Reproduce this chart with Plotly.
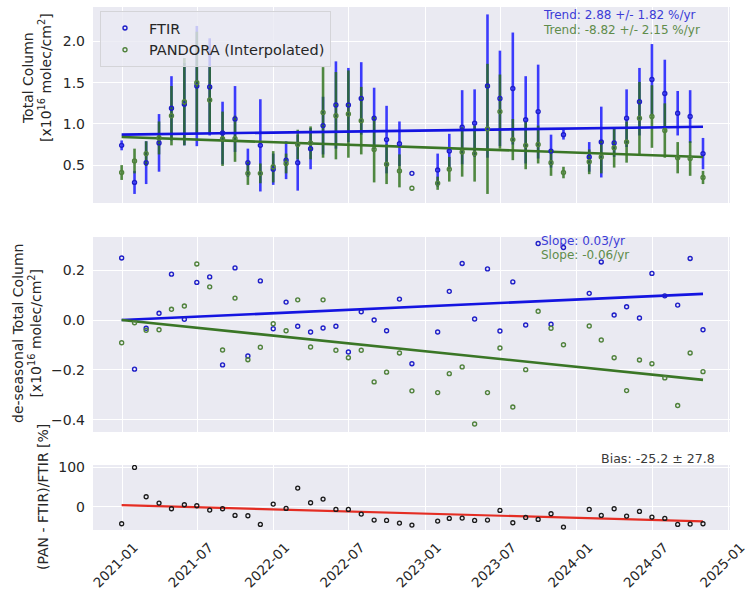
import plotly.graph_objects as go

# ---------------- data ----------------
dates = ['2020-12-31', '2021-01-31', '2021-02-28', '2021-03-31', '2021-04-30', '2021-05-31',
         '2021-06-30', '2021-07-31', '2021-08-31', '2021-09-30', '2021-10-31', '2021-11-30',
         '2021-12-31', '2022-01-31', '2022-02-28', '2022-03-31', '2022-04-30', '2022-05-31',
         '2022-06-30', '2022-07-31', '2022-08-31', '2022-09-30', '2022-10-31', '2022-11-30',
         '2023-01-31', '2023-02-28', '2023-03-31', '2023-04-30', '2023-05-31', '2023-06-30',
         '2023-07-31', '2023-08-31', '2023-09-30', '2023-10-31', '2023-11-30', '2024-01-31',
         '2024-02-29', '2024-03-31', '2024-04-30', '2024-05-31', '2024-06-30', '2024-07-31',
         '2024-08-31', '2024-09-30', '2024-10-31']

ftir_tc = [0.74, 0.29, 0.53, 0.77, 1.19, 1.24, 1.46, 1.45, 0.89, 1.06, 0.53, 0.74,
           0.45, 0.56, 0.53, 0.70, 0.98, 1.23, 1.23, 1.31, 1.07, 0.81, 0.76, 0.40,
           0.44, 0.67, 0.96, 1.01, 1.46, 1.31, 1.43, 1.05, 1.15, 0.67, 0.87, 0.60,
           0.78, 0.77, 1.07, 1.27, 1.54, 1.37, 1.13, 1.09, 0.64]
ftir_err = [0.06, 0.14, 0.26, 0.35, 0.39, 0.50, 0.73, 0.59, 0.38, 0.40, 0.17, 0.56,
            0.19, 0.23, 0.34, 0.25, 0.35, 0.53, 0.45, 0.44, 0.37, 0.41, 0.27, 0.0,
            0.20, 0.21, 0.45, 0.41, 0.87, 0.58, 0.68, 0.53, 0.57, 0.20, 0.06, 0.18,
            0.43, 0.17, 0.35, 0.41, 0.43, 0.41, 0.27, 0.32, 0.19]
pandora_tc = [0.41, 0.55, 0.64, 0.83, 1.10, 1.27, 1.50, 1.29, 0.82, 0.82, 0.40, 0.40,
              0.48, 0.52, 0.75, 0.77, 1.14, 1.10, 1.12, 1.04, 0.69, 0.51, 0.43, 0.22,
              0.28, 0.45, 0.66, 0.64, 0.94, 1.15, 0.81, 0.74, 0.75, 0.53, 0.41, 0.54,
              0.60, 0.71, 0.78, 1.07, 1.09, 0.92, 0.59, 0.58, 0.35]
pandora_err = [0.09, 0.15, 0.15, 0.20, 0.36, 0.53, 0.62, 0.40, 0.33, 0.28, 0.14, 0.12,
               0.19, 0.12, 0.18, 0.20, 0.55, 0.53, 0.53, 0.41, 0.40, 0.24, 0.20, 0.0,
               0.08, 0.15, 0.30, 0.34, 0.79, 0.45, 0.25, 0.29, 0.23, 0.16, 0.07, 0.15,
               0.20, 0.24, 0.25, 0.44, 0.38, 0.33, 0.19, 0.21, 0.08]

ftir_deseason = [0.249, -0.197, -0.033, 0.027, 0.184, 0.003, 0.151, 0.173, -0.180, 0.209,
                 -0.144, 0.157, -0.035, 0.072, -0.025, -0.048, -0.032, -0.025, -0.128, 0.033,
                 0.000, -0.043, 0.084, -0.175, -0.048, 0.115, 0.227, 0.004, 0.205, -0.044,
                 0.153, -0.020, 0.307, -0.017, 0.291, 0.107, 0.233, 0.020, 0.053, 0.008,
                 0.187, 0.097, 0.060, 0.247, -0.039]
pandora_deseason = [-0.091, -0.011, -0.041, -0.039, 0.043, 0.056, 0.225, 0.133, -0.120, 0.088,
                    -0.159, -0.109, -0.015, -0.043, 0.081, -0.108, 0.081, -0.121, -0.151, -0.121,
                    -0.248, -0.209, -0.132, -0.284, -0.291, -0.215, -0.188, -0.417, -0.291, -0.112,
                    -0.349, -0.199, 0.035, -0.033, -0.099, -0.024, -0.080, -0.151, -0.283, -0.160,
                    -0.175, -0.232, -0.343, -0.132, -0.207]

rel_diff = [-43.1, 99.8, 25.4, 9.3, -5.1, 5.1, 2.5, -8.5, -5.1, -22.0, -22.8, -44.8,
            6.8, -4.2, 47.4, 10.2, 19.5, -6.8, -6.8, -18.6, -33.8, -34.7, -41.5, -46.5,
            -36.4, -29.6, -28.8, -34.7, -33.8, -9.3, -40.6, -27.1, -32.1, -17.8, -51.6,
            -6.8, -22.0, -5.1, -23.7, -11.8, -26.2, -29.6, -44.8, -44.0, -43.1]

fit_dates = [dates[0], dates[-1]]
ftir_trend = [0.870, 0.966]
pandora_trend = [0.842, 0.598]
ftir_slope_line = [0.0, 0.105]
pandora_slope_line = [0.0, -0.240]
rel_diff_line = [4.2, -37.2]

tick_dates = ['2021-01-01', '2021-07-01', '2022-01-01', '2022-07-01', '2023-01-01',
              '2023-07-01', '2024-01-01', '2024-07-01', '2025-01-01']
tick_labels = ['2021-01', '2021-07', '2022-01', '2022-07', '2023-01',
               '2023-07', '2024-01', '2024-07', '2025-01']

trend_texts = ['Trend: 2.88 +/- 1.82 %/yr', 'Trend: -8.82 +/- 2.15 %/yr']
slope_texts = ['Slope: 0.03/yr', 'Slope: -0.06/yr']
bias_text = 'Bias: -25.2 ± 27.8'

# ---------------- style ----------------
W, H = 751, 593
FONT = 'DejaVu Sans'
TXT = '#262626'
BG = '#EAEAF2'
BLUE = 'rgb(20,20,225)'
BLUE_ERR = 'rgba(0,0,255,0.75)'
BLUE_MK = 'rgb(30,30,200)'
GREEN = 'rgb(58,118,38)'
GREEN_ERR = 'rgba(40,110,20,0.8)'
GREEN_MK = 'rgb(80,130,60)'
RED = 'rgb(228,45,35)'


def py(p):
    return 1 - p / H


x_dom = [93 / W, 730 / W]
x_range = ['2020-10-23', '2025-01-04']

fig = go.Figure()

# error bars (drawn first)
fig.add_trace(go.Scatter(x=dates, y=ftir_tc, mode='markers', marker=dict(size=1, opacity=0),
                         error_y=dict(type='data', array=ftir_err, color=BLUE_ERR, thickness=2.6, width=0),
                         showlegend=False, hoverinfo='skip', xaxis='x', yaxis='y'))
fig.add_trace(go.Scatter(x=dates, y=pandora_tc, mode='markers', marker=dict(size=1, opacity=0),
                         error_y=dict(type='data', array=pandora_err, color=GREEN_ERR, thickness=2.6, width=0),
                         showlegend=False, hoverinfo='skip', xaxis='x', yaxis='y'))
# trend lines
fig.add_trace(go.Scatter(x=fit_dates, y=ftir_trend, mode='lines', line=dict(color=BLUE, width=2.6),
                         showlegend=False, xaxis='x', yaxis='y'))
fig.add_trace(go.Scatter(x=fit_dates, y=pandora_trend, mode='lines', line=dict(color=GREEN, width=2.6),
                         showlegend=False, xaxis='x', yaxis='y'))
# markers
MK = 4
fig.add_trace(go.Scatter(x=dates, y=ftir_tc, mode='markers', name='FTIR',
                         marker=dict(symbol='circle-open', size=MK, color=BLUE_MK, line=dict(width=1.4)),
                         xaxis='x', yaxis='y'))
fig.add_trace(go.Scatter(x=dates, y=pandora_tc, mode='markers', name='PANDORA (Interpolated)',
                         marker=dict(symbol='circle-open', size=MK, color=GREEN_MK, line=dict(width=1.4)),
                         xaxis='x', yaxis='y'))

# middle panel
fig.add_trace(go.Scatter(x=fit_dates, y=ftir_slope_line, mode='lines', line=dict(color=BLUE, width=2.6),
                         showlegend=False, xaxis='x2', yaxis='y2'))
fig.add_trace(go.Scatter(x=fit_dates, y=pandora_slope_line, mode='lines', line=dict(color=GREEN, width=2.6),
                         showlegend=False, xaxis='x2', yaxis='y2'))
fig.add_trace(go.Scatter(x=dates, y=ftir_deseason, mode='markers', showlegend=False,
                         marker=dict(symbol='circle-open', size=MK, color=BLUE_MK, line=dict(width=1.4)),
                         xaxis='x2', yaxis='y2'))
fig.add_trace(go.Scatter(x=dates, y=pandora_deseason, mode='markers', showlegend=False,
                         marker=dict(symbol='circle-open', size=MK, color=GREEN_MK, line=dict(width=1.4)),
                         xaxis='x2', yaxis='y2'))

# bottom panel
fig.add_trace(go.Scatter(x=fit_dates, y=rel_diff_line, mode='lines', line=dict(color=RED, width=2.2),
                         showlegend=False, xaxis='x3', yaxis='y3'))
fig.add_trace(go.Scatter(x=dates, y=rel_diff, mode='markers', showlegend=False,
                         marker=dict(symbol='circle-open', size=MK, color='#1a1a1a', line=dict(width=1.3)),
                         xaxis='x3', yaxis='y3'))

xcommon = dict(domain=x_dom, range=x_range, type='date', tickvals=tick_dates, ticktext=tick_labels,
               showgrid=True, gridcolor='white', gridwidth=1, zeroline=False, showline=False, ticks='',
               automargin=False)
ycommon = dict(showgrid=True, gridcolor='white', gridwidth=1, zeroline=False, showline=False, ticks='',
               tickfont=dict(family=FONT, size=14, color=TXT), ticklabelstandoff=7, automargin=False)

fig.update_layout(
    width=W, height=H,
    margin=dict(l=0, r=0, t=0, b=0, autoexpand=False),
    paper_bgcolor='white', plot_bgcolor=BG,
    font=dict(family=FONT, color=TXT, size=14),
    xaxis=dict(**xcommon, anchor='y', showticklabels=False),
    xaxis2=dict(**xcommon, anchor='y2', matches='x', showticklabels=False),
    xaxis3=dict(**xcommon, anchor='y3', matches='x', showticklabels=True, tickangle=-45,
                tickfont=dict(family=FONT, size=13.5, color=TXT), ticklabelshift=12, ticklabelstandoff=6,
                ticklabeloverflow='allow'),
    yaxis=dict(**ycommon, domain=[py(203), py(7)], range=[0.04, 2.42], anchor='x',
               tickvals=[0.5, 1.0, 1.5, 2.0], tickformat='.1f'),
    yaxis2=dict(**ycommon, domain=[py(432), py(237)], range=[-0.449, 0.333], anchor='x2',
                tickvals=[-0.4, -0.2, 0.0, 0.2], tickformat='.1f'),
    yaxis3=dict(**ycommon, domain=[py(530), py(465)], range=[-59, 106], anchor='x3',
                tickvals=[0, 100]),
    legend=dict(x=100 / W, y=py(11), xanchor='left', yanchor='top',
                bgcolor='rgba(234,234,242,0.8)', bordercolor='#d4d4d8', borderwidth=1,
                font=dict(family=FONT, size=14.5, color=TXT), itemwidth=38),
    showlegend=True,
)

ann = []
# stats texts
ann.append(dict(x=541 / W, y=py(15), xref='paper', yref='paper', xanchor='left', yanchor='middle',
                text=trend_texts[0], showarrow=False, font=dict(family=FONT, size=12, color='rgb(60,60,215)')))
ann.append(dict(x=541 / W, y=py(30), xref='paper', yref='paper', xanchor='left', yanchor='middle',
                text=trend_texts[1], showarrow=False, font=dict(family=FONT, size=12, color='rgb(95,140,75)')))
ann.append(dict(x=539 / W, y=py(241), xref='paper', yref='paper', xanchor='left', yanchor='middle',
                text=slope_texts[0], showarrow=False, font=dict(family=FONT, size=12, color='rgb(60,60,215)')))
ann.append(dict(x=539 / W, y=py(255), xref='paper', yref='paper', xanchor='left', yanchor='middle',
                text=slope_texts[1], showarrow=False, font=dict(family=FONT, size=12, color='rgb(95,140,75)')))
ann.append(dict(x=717 / W, y=py(458), xref='paper', yref='paper', xanchor='right', yanchor='middle',
                text=bias_text, showarrow=False, font=dict(family=FONT, size=12.6, color='#3a3a3a')))
# y-axis titles
ann.append(dict(x=37 / W, y=py(78), xref='paper', yref='paper', xanchor='center', yanchor='middle',
                textangle=-90, showarrow=False,
                text='Total Column<br>[x10<sup>16</sup> molec/cm<sup>2</sup>]',
                font=dict(family=FONT, size=14, color=TXT)))
ann.append(dict(x=27 / W, y=py(334), xref='paper', yref='paper', xanchor='center', yanchor='middle',
                textangle=-90, showarrow=False,
                text='de-seasonal Total Column<br>[x10<sup>16</sup> molec/cm<sup>2</sup>]',
                font=dict(family=FONT, size=14, color=TXT)))
ann.append(dict(x=43 / W, y=py(497), xref='paper', yref='paper', xanchor='center', yanchor='middle',
                textangle=-90, showarrow=False,
                text='(PAN - FTIR)/FTIR [%]',
                font=dict(family=FONT, size=14, color=TXT)))
fig.update_layout(annotations=ann)

fig.write_html('out.html')
